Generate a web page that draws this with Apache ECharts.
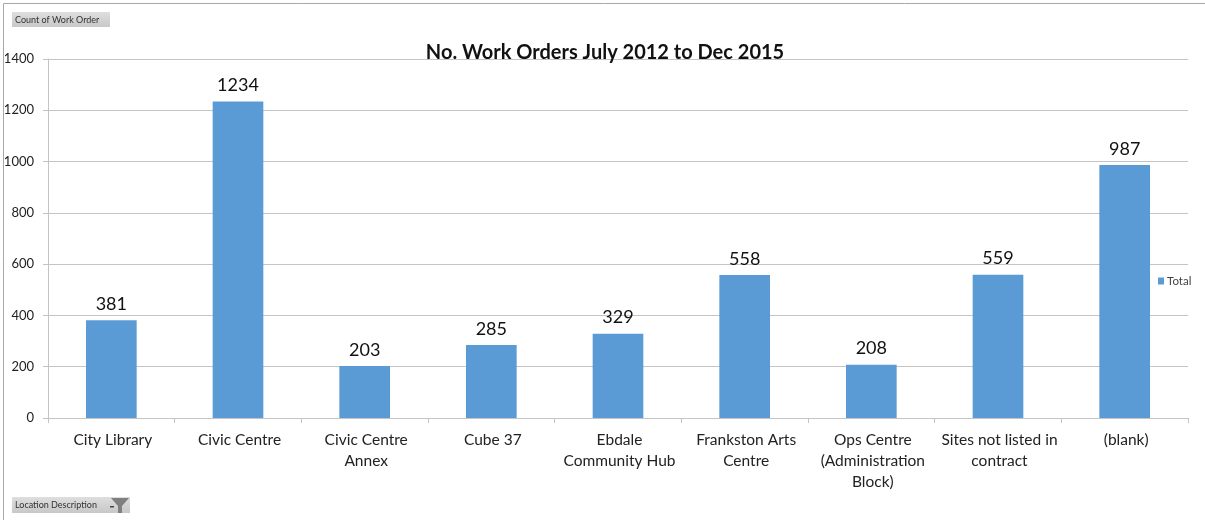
<!DOCTYPE html>
<html>
<head>
<meta charset="utf-8">
<style>
  html, body { margin: 0; padding: 0; background: #fff; }
  #chart { width: 1205px; height: 520px; }
</style>
<script src="https://cdn.jsdelivr.net/npm/echarts@6/dist/echarts.min.js"></script>
</head>
<body>
<div id="chart"></div>
<script>
const locations = [
  'City Library', 'Civic Centre', 'Civic Centre\nAnnex', 'Cube 37',
  'Ebdale\nCommunity Hub', 'Frankston Arts\nCentre',
  'Ops Centre\n(Administration\nBlock)', 'Sites not listed in\ncontract', '(blank)'
];
const workOrderCounts = [381, 1234, 203, 285, 329, 558, 208, 559, 987];
const chartTitle = 'No. Work Orders July 2012 to Dec 2015';
const seriesName = 'Total';
const valueFieldButton = 'Count of Work Order';
const axisFieldButton = 'Location Description';

const fontFamily = 'Lato, "Open Sans", sans-serif';
const barBlue = '#5b9bd5';
const ruleGrey = '#c4c4c4';

const chart = echarts.init(document.getElementById('chart'), null, { renderer: 'canvas' });

// Grey pivot-field buttons, drawn as a soft bar with a small caption
function fieldButton(x, y, w, h, label) {
  return [
    {
      type: 'rect', shape: { x, y, width: w, height: h },
      style: { fill: new echarts.graphic.LinearGradient(0, 0, 0, 1, [
        { offset: 0, color: '#dedede' }, { offset: 1, color: '#c8c8c8' }
      ]) }
    },
    {
      type: 'text', x: x + 3, y: y + h / 2 + 0.5,
      style: { text: label, font: '9px ' + fontFamily, fill: '#333', verticalAlign: 'middle', letterSpacing: 0.7 }
    }
  ];
}

chart.setOption({
  animation: false,
  backgroundColor: '#fff',
  title: {
    text: chartTitle, left: 600, top: 38, textAlign: 'center',
    textStyle: { fontFamily, fontSize: 20, fontWeight: 'bold', color: '#111' }
  },
  legend: {
    data: [seriesName], left: 1158, top: 275, orient: 'vertical',
    itemWidth: 6, itemHeight: 7, itemGap: 0, padding: 0, icon: 'rect',
    textStyle: { fontFamily, fontSize: 11.5, color: '#444', padding: [0, 0, 0, -2] }
  },
  grid: { left: 48, right: 17, top: 59, bottom: 102, containLabel: false },
  xAxis: {
    type: 'category', data: locations,
    axisLine: { lineStyle: { color: ruleGrey, width: 1 } },
    axisTick: { show: true, length: 5, alignWithLabel: false, lineStyle: { color: ruleGrey } },
    axisLabel: { interval: 0, fontFamily, fontSize: 15.5, color: '#222', lineHeight: 21, margin: 11, padding: [0, 0, 0, 3] }
  },
  yAxis: {
    type: 'value', min: 0, max: 1400, interval: 200,
    axisLine: { show: true, lineStyle: { color: ruleGrey, width: 1 } },
    axisTick: { show: true, length: 5, lineStyle: { color: ruleGrey } },
    axisLabel: { fontFamily, fontSize: 13, color: '#222', margin: 14, formatter: (v) => String(v) },
    splitLine: { lineStyle: { color: ruleGrey, width: 1 } }
  },
  series: [{
    name: seriesName, type: 'bar', data: workOrderCounts, barWidth: '40%',
    itemStyle: { color: barBlue },
    label: { show: true, position: 'top', distance: 7, fontFamily, fontSize: 18, color: '#111' }
  }],
  graphic: { elements: [
    // Outer chart frame: only the top and left edges are visible
    { type: 'line', shape: { x1: 3.5, y1: 3.5, x2: 1205, y2: 3.5 }, style: { stroke: '#a8a8a8', lineWidth: 1 } },
    { type: 'line', shape: { x1: 3.5, y1: 3.5, x2: 3.5, y2: 520 }, style: { stroke: '#a8a8a8', lineWidth: 1 } },
    ...fieldButton(12, 12, 98, 15, valueFieldButton),
    ...fieldButton(12, 497, 118, 16, axisFieldButton),
    // Filter funnel and drop-down mark on the axis field button
    { type: 'polygon', shape: { points: [[111, 498], [129, 498], [122, 506], [122, 513], [118, 513], [118, 506]] }, style: { fill: '#7f7f7f' } },
    { type: 'rect', shape: { x: 110, y: 506, width: 4, height: 1.5 }, style: { fill: '#444' } }
  ] }
});
</script>
</body>
</html>
